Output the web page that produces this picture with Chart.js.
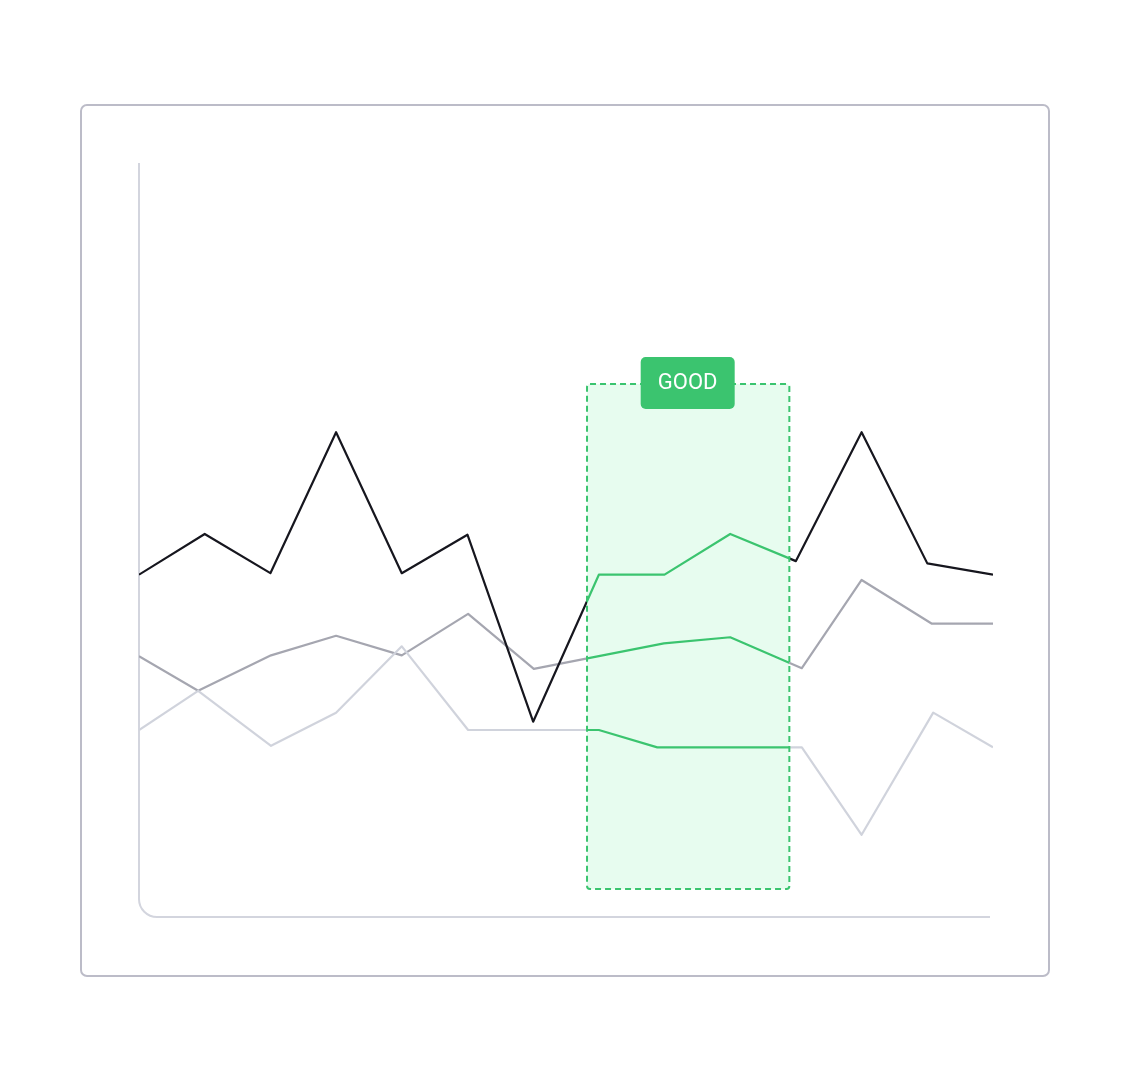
<!DOCTYPE html>
<html>
<head>
  <title>Highlighted range</title>
  <script src="https://cdn.jsdelivr.net/npm/chart.js"></script>
  <style>
    body { margin: 0; background: #fff; }
    #card {
      position: absolute; left: 80px; top: 104px;
      width: 966px; height: 869px;
      border: 2px solid #bcbcc8; border-radius: 7px;
    }
    #chart { position: absolute; left: 0; top: 0; }
  </style>
</head>
<body>
  <div id="card"></div>
  <canvas id="chart" width="1130" height="1082"></canvas>

  <script>
    // series (x in steps, y on a 0-100 scale)
    const blackX = [0, 1, 2, 3, 4, 5, 6, 7, 8, 9, 10, 11, 12, 13];
    const blackY = [45.4, 50.8, 45.6, 64.3, 45.6, 50.7, 25.9, 45.4, 45.4, 50.8, 47.2, 64.3, 46.9, 45.4];

    const darkX = [0, 0.9, 2.01, 3, 4, 5.01, 6.01, 7.99, 9, 10.09, 11, 12.07, 13];
    const darkY = [34.6, 30.0, 34.7, 37.3, 34.7, 40.2, 32.9, 36.3, 37.1, 33.0, 44.7, 38.9, 38.9];

    const lightX = [0, 0.9, 2.01, 3, 4, 5.01, 7, 7.89, 10.09, 11, 12.09, 13];
    const lightY = [24.8, 30.0, 22.7, 27.1, 35.9, 24.8, 24.8, 22.5, 22.5, 10.9, 27.1, 22.5];

    // highlighted band
    const bandX = [6.82, 9.9];
    const bandY = [3.7, 70.7];
    const bandLabel = 'GOOD';

    const GREEN = '#3bc46f';

    function pts(xs, ys) {
      return xs.map((x, i) => ({ x: x, y: ys[i] }));
    }

    // gray outside the band, green inside it
    function bandColor(base) {
      return function (context) {
        const chart = context.chart;
        const area = chart.chartArea;
        if (!area) return base;
        const xs = chart.scales.x;
        const x0 = xs.getPixelForValue(bandX[0]);
        const x1 = xs.getPixelForValue(bandX[1]);
        const w = area.right - area.left;
        const f0 = (x0 - area.left) / w;
        const f1 = (x1 - area.left) / w;
        const g = chart.ctx.createLinearGradient(area.left, 0, area.right, 0);
        g.addColorStop(0, base);
        g.addColorStop(f0, base);
        g.addColorStop(f0, GREEN);
        g.addColorStop(f1, GREEN);
        g.addColorStop(f1, base);
        g.addColorStop(1, base);
        return g;
      };
    }

    const decor = {
      id: 'decor',
      beforeDatasetsDraw(chart) {
        const ctx = chart.ctx;
        const a = chart.chartArea;
        const xs = chart.scales.x, ys = chart.scales.y;

        // axis with rounded corner
        ctx.save();
        ctx.strokeStyle = '#d3d5de';
        ctx.lineWidth = 2;
        ctx.beginPath();
        ctx.moveTo(a.left, a.top);
        ctx.arcTo(a.left, a.bottom, a.left + 18, a.bottom, 18);
        ctx.lineTo(a.right - 3, a.bottom);
        ctx.stroke();

        // band fill
        const x0 = xs.getPixelForValue(bandX[0]);
        const x1 = xs.getPixelForValue(bandX[1]);
        const y0 = ys.getPixelForValue(bandY[1]);
        const y1 = ys.getPixelForValue(bandY[0]);
        ctx.fillStyle = '#e7fcef';
        ctx.beginPath();
        ctx.roundRect(x0, y0, x1 - x0, y1 - y0, 3);
        ctx.fill();
        ctx.restore();
      },
      afterDatasetsDraw(chart) {
        const ctx = chart.ctx;
        const xs = chart.scales.x, ys = chart.scales.y;
        const x0 = xs.getPixelForValue(bandX[0]);
        const x1 = xs.getPixelForValue(bandX[1]);
        const y0 = ys.getPixelForValue(bandY[1]);
        const y1 = ys.getPixelForValue(bandY[0]);

        ctx.save();
        ctx.strokeStyle = GREEN;
        ctx.lineWidth = 2;
        ctx.setLineDash([6, 4]);
        ctx.beginPath();
        ctx.roundRect(x0, y0, x1 - x0, y1 - y0, 3);
        ctx.stroke();
        ctx.setLineDash([]);

        // label tag
        const cx = (x0 + x1) / 2 - 0.5;
        const tw = 94, th = 52;
        ctx.fillStyle = GREEN;
        ctx.beginPath();
        ctx.roundRect(cx - tw / 2, y0 - 27, tw, th, 5);
        ctx.fill();
        ctx.fillStyle = '#ffffff';
        ctx.font = '22px Roboto';
        ctx.textAlign = 'center';
        ctx.textBaseline = 'middle';
        ctx.fillText(bandLabel, cx, y0);
        ctx.restore();
      }
    };

    new Chart(document.getElementById('chart'), {
      type: 'line',
      data: {
        datasets: [
          { data: pts(blackX, blackY), borderColor: bandColor('#16161e') },
          { data: pts(lightX, lightY), borderColor: bandColor('#d0d3dc') },
          { data: pts(darkX, darkY), borderColor: bandColor('#a5a6b0') }
        ]
      },
      options: {
        responsive: false,
        animation: false,
        layout: { padding: { left: 139, right: 137, top: 163, bottom: 165 } },
        elements: {
          line: { borderWidth: 2.2, tension: 0, borderJoinStyle: 'round', borderCapStyle: 'butt', fill: false },
          point: { radius: 0, hoverRadius: 0 }
        },
        scales: {
          x: { type: 'linear', min: 0, max: 13, display: false },
          y: { min: 0, max: 100, display: false }
        },
        plugins: {
          legend: { display: false },
          tooltip: { enabled: false }
        }
      },
      plugins: [decor]
    });
  </script>
</body>
</html>
